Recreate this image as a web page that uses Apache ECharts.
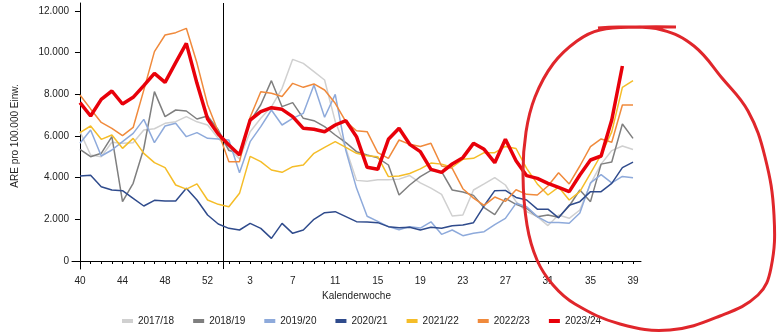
<!DOCTYPE html>
<html><head><meta charset="utf-8">
<script src="https://cdn.jsdelivr.net/npm/echarts@6/dist/echarts.min.js"></script>
<style>html,body{margin:0;padding:0;background:#fff}#c{width:778px;height:332px}</style>
</head><body><div id="c"></div>
<script>
// Kalenderwochen (Saison KW40 .. KW39)
const weeks = [40,41,42,43,44,45,46,47,48,49,50,51,52,53,1,2,3,4,5,6,7,8,9,10,11,12,13,14,15,16,17,18,19,20,21,22,23,24,25,26,27,28,29,30,31,32,33,34,35,36,37,38,39];
const xLabelIdx = [0,4,8,12,16,20,24,28,32,36,40,44,48,52];
const yTicks = [0,2000,4000,6000,8000,10000,12000];
const seasonNames = ['2017/18','2018/19','2019/20','2020/21','2021/22','2022/23','2023/24'];
const s1718 = [6208,5088,5008,5700,5648,5680,6288,6350,6608,6688,6928,6680,6528,5888,5400,4900,6200,6850,7400,8288,9680,9488,9088,8688,6700,5400,3870,3830,3900,3900,3930,4100,3750,3500,3200,2160,2208,3408,3700,4000,3648,2848,2368,2128,1700,2208,2048,2448,3700,4650,5300,5520,5350];
const s1819 = [5360,5008,5168,5968,2848,3728,5400,8128,6928,7248,7200,6816,6960,6300,5300,5200,6700,7500,8656,7408,7600,6848,6736,6448,6048,5680,5248,5088,4950,4608,3168,3648,4048,4350,4288,3408,3312,3150,2560,2230,3008,2720,2528,2128,2208,2096,2640,3408,2848,4650,4750,6576,5888];
const s1920 = [5648,6288,5040,5328,5728,6128,6800,5680,6480,6608,5968,6160,5888,5856,5808,4240,5728,6448,7248,6528,6848,7088,8448,6900,8000,5300,3500,2150,1900,1650,1500,1650,1580,1880,1280,1488,1216,1328,1408,1750,2048,2768,2600,2128,1850,1850,1808,2300,3750,4150,3750,4060,4000];
const s2021 = [4080,4112,3568,3408,3376,3008,2640,2912,2880,2880,3488,2928,2208,1776,1568,1488,1808,1568,1088,1808,1328,1488,2000,2320,2368,2128,1888,1872,1840,1648,1600,1616,1488,1616,1568,1696,1728,1840,2650,3376,3390,3050,2928,2490,2490,2070,2680,2848,3328,3328,3728,4480,4750];
const s2122 = [6160,6480,5840,6048,5408,5888,5168,4720,4480,3648,3450,3700,2928,2720,2600,3248,5020,4768,4368,4256,4528,4608,5168,5456,5728,5456,5168,5050,5008,4050,4080,4200,4420,4700,4650,4500,4880,4928,5200,5200,5500,5400,4448,3700,3168,3550,2928,3328,4208,5100,6200,8336,8656];
const s2223 = [7968,7300,6650,6368,6020,6410,8200,10048,10848,10960,11168,9500,7500,6200,4768,4768,6900,8128,8048,7900,8528,8336,8500,8208,7568,6688,6250,6208,5200,4928,5808,5600,5500,5648,4560,4448,3470,3020,2670,3070,2860,3420,3200,3170,3600,4240,3700,4560,5488,5860,5700,7488,7488];
const s2324 = [7600,6960,7760,8160,7536,7856,8416,9008,8576,9520,10448,8528,6816,6100,5568,5088,6768,7168,7360,7280,6928,6368,6320,6208,6528,6736,5968,4496,4400,5840,6368,5600,5248,4400,4256,4656,4960,5648,5360,4720,5840,4810,4096,3968,3728,3536,3328,4128,4848,5040,6768,9360,null];
const yearBoundary = 13.5; // zwischen KW53 und KW1

const seriesValues = [s1718,s1819,s1920,s2021,s2122,s2223,s2324];
const colors = ['#d0d0d0','#7f7f7f','#8eaadb','#2f4b8c','#f5bd28','#f08a3c','#e8000a'];
const widths = [1.5,1.5,1.5,1.5,1.5,1.5,3.5];

const FONT = 'Liberation Sans, Arial, sans-serif';
const fmt = v => String(Math.round(v)).replace(/\B(?=(\d{3})+(?!\d))/g,'.');

const series = seriesValues.map((vals,k)=>({
  name: seasonNames[k], type:'line', showSymbol:false, symbol:'none',
  data: vals.map((v,i)=>[i,v]),
  lineStyle:{color:colors[k], width:widths[k]}, itemStyle:{color:colors[k]},
  emphasis:{disabled:true}, z: 2+k,
  markLine: k===0 ? {silent:true, symbol:'none', label:{show:false},
    lineStyle:{color:'#000', width:1, type:'solid'}, data:[{xAxis:yearBoundary}]} : undefined
}));

const chart = echarts.init(document.getElementById('c'), null, {renderer:'canvas'});
chart.setOption({
  animation:false,
  backgroundColor:'#fff',
  grid:{left:72, right:137, top:3, bottom:63, containLabel:false},
  xAxis:{
    type:'value', min:-0.75, max:weeks.length-1+0.75,
    name:'Kalenderwoche', nameLocation:'middle', nameGap:20,
    nameTextStyle:{fontSize:10, fontFamily:FONT, color:'#222'},
    axisLine:{show:true, lineStyle:{color:'#000', width:1}},
    axisTick:{show:true, length:3, lineStyle:{color:'#000'}, customValues: weeks.map((w,i)=>i)},
    axisLabel:{fontSize:10, fontFamily:FONT, color:'#222', margin:7, customValues: xLabelIdx,
      formatter: v => String(weeks[Math.round(v)])},
    splitLine:{show:false}
  },
  yAxis:{
    type:'value', min:-384, max:12384,
    name:'ARE pro 100.000 Einw.', nameLocation:'middle', nameGap:52,
    nameTextStyle:{fontSize:10, fontFamily:FONT, color:'#222'},
    axisLine:{show:true, lineStyle:{color:'#000', width:1}},
    axisTick:{show:true, length:5, lineStyle:{color:'#000'}, customValues: yTicks},
    axisLabel:{fontSize:10, fontFamily:FONT, color:'#222', margin:3, customValues: yTicks, formatter: fmt},
    splitLine:{show:false}
  },
  legend:{
    left:117, top:311, icon:'rect', itemWidth:11, itemHeight:4, itemGap:19,
    textStyle:{fontSize:10, fontFamily:FONT, color:'#222'},
    data: seasonNames
  },
  series: series,
  graphic:[{
    type:'polyline', z:100, silent:true,
    shape:{smooth:0.4, points:[[676,27],[640,27],[600,30],[577,41],[553,64],[535,97],[526,132],[523,175],[527,225],[537,260],[553,285],[575,304],[620,324],[670,330],[720,316],[758,295],[771,268],[774,215],[765,157],[748,111],[722,78],[694,46],[662,30],[622,27],[598,28]]},
    style:{stroke:'#e0262b', lineWidth:3, fill:null}
  }]
});
</script></body></html>
